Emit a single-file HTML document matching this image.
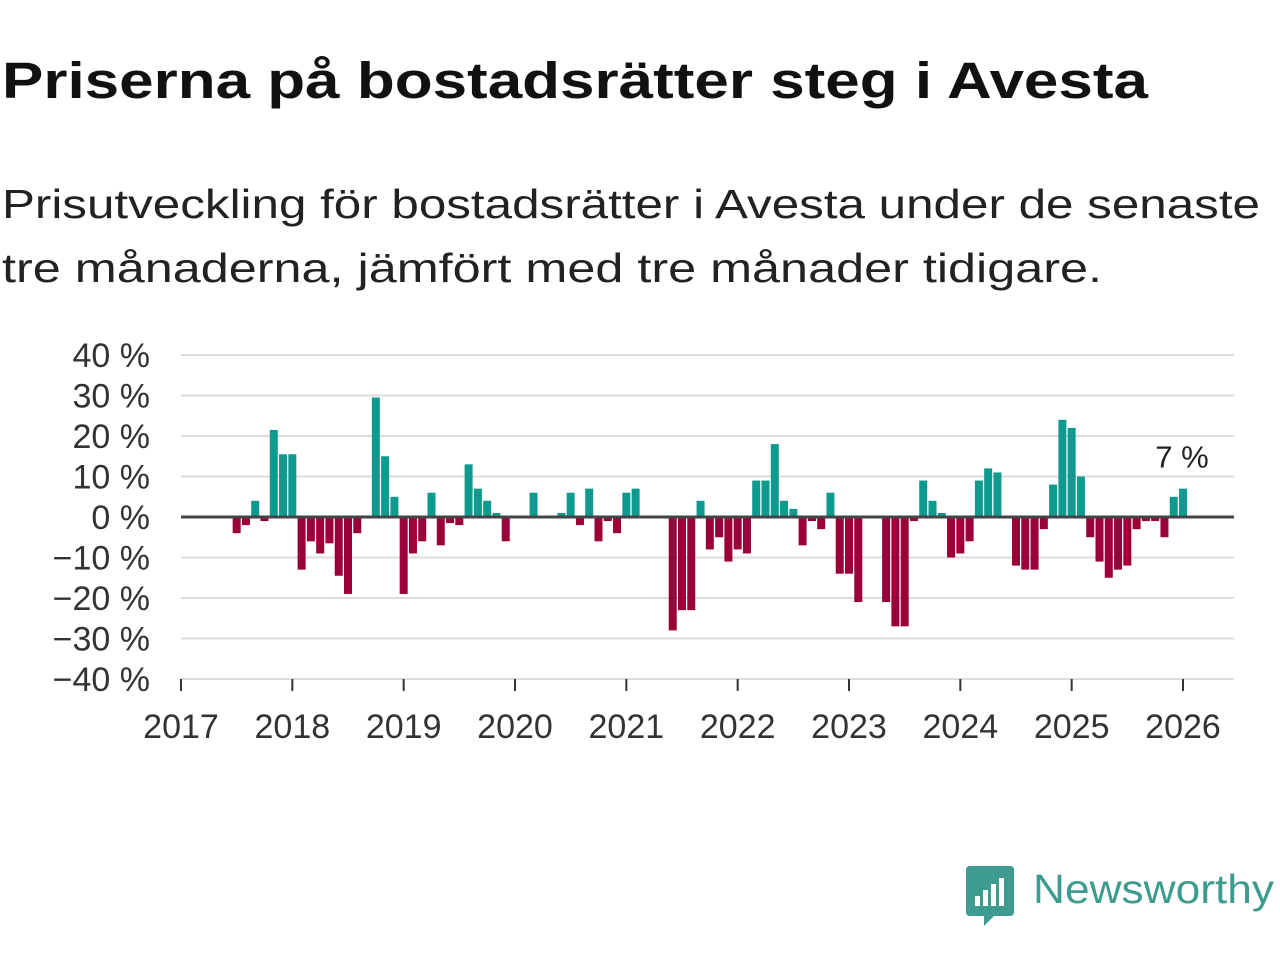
<!DOCTYPE html>
<html><head><meta charset="utf-8"><style>
html,body{margin:0;padding:0;background:#fff;}
svg{display:block;font-family:"Liberation Sans",sans-serif;}
</style></head><body>
<svg id="chart" width="1280" height="960" viewBox="0 0 1280 960">
<text x="2" y="98" font-size="51" font-weight="bold" fill="#111" textLength="1146" lengthAdjust="spacingAndGlyphs">Priserna på bostadsrätter steg i Avesta</text>
<text x="2" y="218" font-size="41" fill="#222" textLength="1258" lengthAdjust="spacingAndGlyphs">Prisutveckling för bostadsrätter i Avesta under de senaste</text>
<text x="2" y="282" font-size="41" fill="#222" textLength="1100" lengthAdjust="spacingAndGlyphs">tre månaderna, jämfört med tre månader tidigare.</text>
<g id="grid"></g><g id="bars"></g><g id="axes"></g>
<g>
<path d="M966 870 q0-4 4-4 h40 q4 0 4 4 v42 q0 4-4 4 h-16 l-10 10 v-10 h-14 q-4 0-4-4z" fill="#3d9b8f"/>
<rect x="975" y="896" width="5" height="10" fill="#fff"/><rect x="983" y="890" width="5" height="16" fill="#fff"/><rect x="991" y="884" width="5" height="22" fill="#fff"/><rect x="999" y="878" width="5" height="28" fill="#fff"/>
<text x="1033" y="903" font-size="41" fill="#3d9b8f" textLength="241" lengthAdjust="spacingAndGlyphs">Newsworthy</text>
</g>
</svg>
<script>
const startMonth = 6; // July 2017
const values = [-4,-2,4,-1,21.5,15.5,15.5,-13,-6,-9,-6.5,-14.5,-19,-4,0,29.5,15,5,-19,-9,-6,6,-7,-1.5,-2,13,7,4,1,-6,0,0,6,0,0,1,6,-2,7,-6,-1,-4,6,7,0,0,0,-28,-23,-23,4,-8,-5,-11,-8,-9,9,9,18,4,2,-7,-1,-3,6,-14,-14,-21,0,0,-21,-27,-27,-1,9,4,1,-10,-9,-6,9,12,11,0,-12,-13,-13,-3,8,24,22,10,-5,-11,-15,-13,-12,-3,-1,-1,-5,5,7];
const yTicks = [40,30,20,10,0,-10,-20,-30,-40];
const years = [2017,2018,2019,2020,2021,2022,2023,2024,2025,2026];
const lastLabel = "7 %";
const NS="http://www.w3.org/2000/svg";
const x0=181, monthW=(1183-181)/108, y0=517, pxPer=4.05;
const xs=m=>x0+m*monthW, ys=v=>y0-v*pxPer;
function mk(tag,attrs,parent){const e=document.createElementNS(NS,tag);for(const k in attrs)e.setAttribute(k,attrs[k]);parent.appendChild(e);return e;}
const grid=document.getElementById('grid'),bars=document.getElementById('bars'),axes=document.getElementById('axes');
yTicks.forEach(t=>{
  if(t!==0&&t!==-40){const l=mk('line',{x1:181,x2:1234,y1:ys(t),y2:ys(t),stroke:'#dcdcdc','stroke-width':2},grid);
  
  }
  const tx=mk('text',{x:150,y:ys(t)+12,'font-size':34,'text-anchor':'end',fill:'#333'},axes);
  tx.textContent=(t<0?'\u2212'+(-t):t)+' %';
  
  
});
values.forEach((v,i)=>{
  if(v===0)return;
  const m=startMonth+i, y=ys(Math.max(v,0)), h=Math.abs(v)*pxPer;
  const r=mk('rect',{x:xs(m)-4,y:y,width:8,height:h,fill:v>0?'#0e9a8e':'#9b0038'},bars);
  
  
});
const zl=mk('line',{x1:181,x2:1234,y1:y0,y2:y0,stroke:'#444','stroke-width':3},axes);


const xa=mk('line',{x1:181,x2:1234,y1:679,y2:679,stroke:'#ddd','stroke-width':2},axes);


years.forEach((yr,i)=>{
  const x=xs(i*12);
  const tk=mk('line',{x1:x,x2:x,y1:679,y2:691,stroke:'#333','stroke-width':2},axes);
  
  
  const tx=mk('text',{x:x,y:738,'font-size':34,'text-anchor':'middle',fill:'#333'},axes);
  tx.textContent=yr;
  
  
});
const lastI=values.length-1;
const lab=mk('text',{x:xs(startMonth+lastI)-1,y:ys(values[lastI])-21,'font-size':31,'text-anchor':'middle',fill:'#222'},axes);
lab.textContent=lastLabel;


</script>
</body></html>
